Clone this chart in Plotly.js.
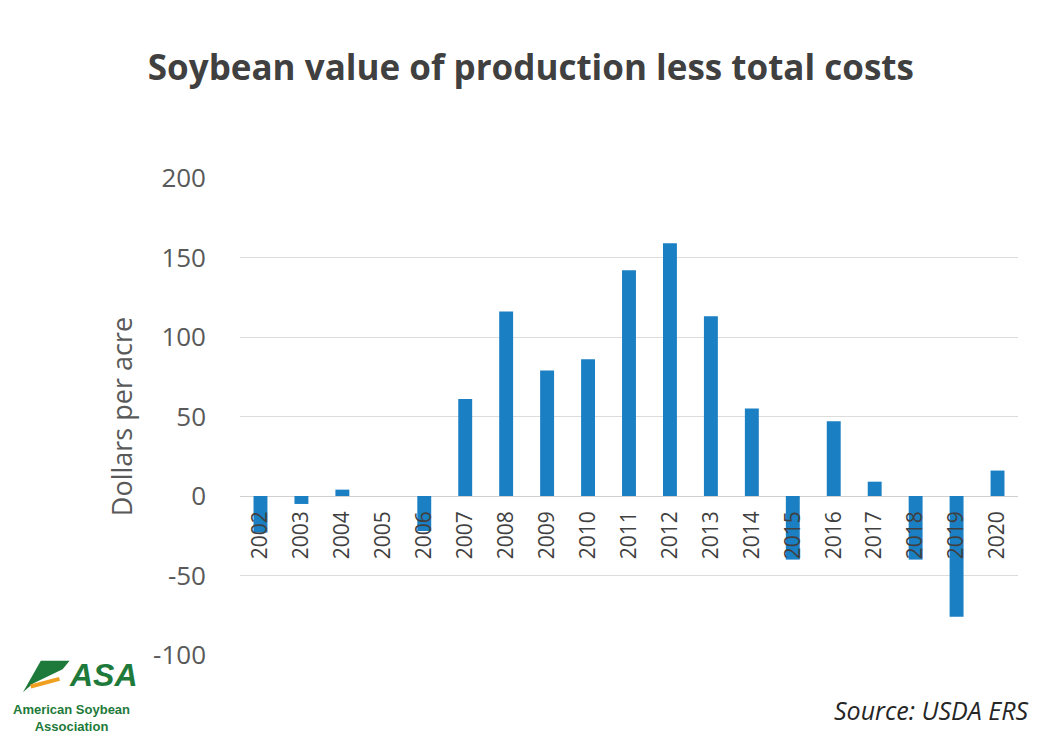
<!DOCTYPE html>
<html><head><meta charset="utf-8">
<script src="https://cdn.plot.ly/plotly-3.0.1.min.js"></script>
<style>html,body{margin:0;padding:0;background:#fff}#chart{width:1045px;height:733px}</style>
</head><body><div id="chart"></div>
<script>
const years = ['2002','2003','2004','2005','2006','2007','2008','2009','2010','2011','2012','2013','2014','2015','2016','2017','2018','2019','2020'];
const valuesPerAcre = [-23,-5,4,0,-22,61,116,79,86,142,159,113,55,-40,47,9,-40,-76,16];
const yTickVals = [-100,-50,0,50,100,150,200];

const trace = {
  type:'bar', x:years, y:valuesPerAcre,
  marker:{color:'#1b7fc3'}, hoverinfo:'x+y'
};
const layout = {
  width:1045, height:733,
  paper_bgcolor:'#ffffff', plot_bgcolor:'#ffffff',
  margin:{l:240,r:27,t:178,b:78},
  bargap:0.66,
  showlegend:false,
  font:{family:'Open Sans, sans-serif', color:'#595959'},
  title:{text:'<b>Soybean value of production less total costs</b>', x:0.508, xanchor:'center', y:0.908, yanchor:'middle',
    font:{size:35, color:'#404040', family:'Open Sans, sans-serif'}},
  xaxis:{type:'category', anchor:'free', position:1/3, tickangle:-90, showgrid:false, showline:false, ticks:'',
    tickfont:{size:21, color:'#404040'}, ticklabelstandoff:10, fixedrange:true},
  yaxis:{range:[-100,200], tickvals:yTickVals, ticktext:yTickVals.map(String), gridcolor:'#dcdcdc', gridwidth:1,
    zeroline:true, zerolinecolor:'#d0d0d0', zerolinewidth:1, showline:false, ticks:'',
    tickfont:{size:26, color:'#595959'}, ticklabelstandoff:33,
    title:{text:'Dollars per acre', font:{size:27, color:'#595959'}, standoff:12}},
  annotations:[
    {text:'<i>Source: USDA ERS</i>', xref:'paper', yref:'paper', x:1.015, y:-0.075, xanchor:'right', yanchor:'top',
      showarrow:false, font:{size:25, color:'#262626', family:'Open Sans, sans-serif'}},
    {text:'<b><i>ASA</i></b>', xref:'paper', yref:'paper', x:-0.222, y:0.0, xanchor:'left', yanchor:'top',
      showarrow:false, font:{size:32, color:'#1e7a3a', family:'Liberation Sans, Arial, sans-serif'}},
    {text:'<b>American Soybean<br>Association</b>', xref:'paper', yref:'paper', x:-0.216, y:-0.095, xanchor:'center', yanchor:'top',
      showarrow:false, align:'center', font:{size:13, color:'#1e7a3a', family:'Liberation Sans, Arial, sans-serif'}}
  ],
  shapes:[
    {type:'path', xref:'paper', yref:'paper', path:'M -0.279 -0.078 L -0.256 -0.012 L -0.219 -0.012 L -0.228 -0.03 L -0.266 -0.06 Z',
      fillcolor:'#1e7a3a', line:{width:0}},
    {type:'line', xref:'paper', yref:'paper', x0:-0.269, y0:-0.066, x1:-0.232, y1:-0.05, line:{color:'#f0a020', width:4}}
  ]
};
Plotly.newPlot('chart',[trace],layout,{displayModeBar:false, staticPlot:true});
</script></body></html>
